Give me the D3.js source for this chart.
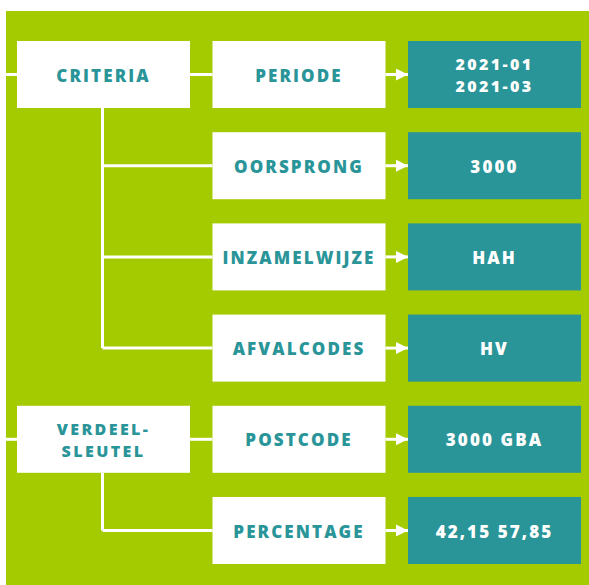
<!DOCTYPE html>
<html>
<head>
<meta charset="utf-8">
<script src="https://cdn.jsdelivr.net/npm/d3@7"></script>
<style>
  html, body { margin: 0; padding: 0; background: #fff; }
  svg { display: block; }
  text { font-family: 'Open Sans', Lato, sans-serif; font-weight: 800; }
</style>
</head>
<body>
<div id="chart"></div>
<script>
const groups = [
  { name: ['CRITERIA'], rows: [0, 3] },
  { name: ['VERDEEL-', 'SLEUTEL'], rows: [4, 5] }
];
const criteria = ['PERIODE', 'OORSPRONG', 'INZAMELWIJZE', 'AFVALCODES', 'POSTCODE', 'PERCENTAGE'];
const values = [['2021-01', '2021-03'], ['3000'], ['HAH'], ['HV'], ['3000 GBA'], ['42,15 57,85']];

const colors = { green: '#a4ca00', teal: '#2a9599', white: '#ffffff' };

const width = 589;
const height = 585;
const svg = d3.select('#chart').append('svg')
  .attr('width', width)
  .attr('height', height);

svg.append('rect')
  .attr('x', 6).attr('y', 11)
  .attr('width', width - 6).attr('height', height - 11)
  .attr('fill', colors.green);

const rows = d3.range(criteria.length);
const fy = d3.scaleBand().domain(rows).range([41, 564]).paddingInner(0.265).paddingOuter(0);
const fx = d3.scaleBand().domain([0, 1, 2]).range([17, 581]).paddingInner(0.115).paddingOuter(0);
const cy = i => fy(i) + fy.bandwidth() / 2;
const trunkX = fx(0) + fx.bandwidth() / 2 - 1;

svg.append('defs').append('marker')
  .attr('id', 'arrow')
  .attr('viewBox', '0 0 10 10')
  .attr('refX', 10).attr('refY', 5)
  .attr('markerWidth', 4).attr('markerHeight', 4)
  .attr('markerUnits', 'strokeWidth')
  .attr('orient', 'auto')
  .append('path')
  .attr('d', 'M0,0L10,5L0,10Z')
  .attr('fill', colors.white);

const lines = svg.append('g')
  .attr('stroke', colors.white)
  .attr('stroke-width', 3)
  .attr('fill', 'none');

// stubs from left edge into group boxes
lines.selectAll('.stub')
  .data(groups)
  .join('line')
  .attr('class', 'stub')
  .attr('x1', 6).attr('x2', fx(0))
  .attr('y1', d => (cy(d.rows[0]))).attr('y2', d => cy(d.rows[0]));

// group box to first criterion
lines.selectAll('.first')
  .data(groups)
  .join('line')
  .attr('class', 'first')
  .attr('x1', fx(0) + fx.bandwidth()).attr('x2', fx(1))
  .attr('y1', d => cy(d.rows[0])).attr('y2', d => cy(d.rows[0]));

// trunk + branches
lines.selectAll('.trunk')
  .data(groups)
  .join('path')
  .attr('class', 'trunk')
  .attr('d', d => {
    let p = `M${trunkX},${fy(d.rows[0]) + fy.bandwidth()}V${cy(d.rows[1])}`;
    d3.range(d.rows[0] + 1, d.rows[1] + 1).forEach(r => {
      p += `M${trunkX},${cy(r)}H${fx(1)}`;
    });
    return p;
  });

// arrows criterion -> value
lines.selectAll('.arrow')
  .data(rows)
  .join('line')
  .attr('class', 'arrow')
  .attr('x1', fx(1) + fx.bandwidth()).attr('x2', fx(2))
  .attr('y1', cy).attr('y2', cy)
  .attr('marker-end', 'url(#arrow)');

// two-line labels get a slightly smaller size so the lines stay apart
const sizeFor = n => (n > 1 ? 16 : 17);

function addText(sel, lines, fill) {
  const t = sel.append('text')
    .attr('text-anchor', 'middle')
    .attr('fill', fill)
    .attr('font-size', d => sizeFor(lines(d).length))
    .attr('letter-spacing', d => (lines(d).length > 1 ? 2.4 : 2.1));
  t.selectAll('tspan')
    .data(d => {
      const l = lines(d);
      const fs = sizeFor(l.length);
      return l.map((s, i) => ({ s, dy: (i - (l.length - 1) / 2) * fs * 1.37 + fs * 0.36 + 1 }));
    })
    .join('tspan')
    .attr('x', 0)
    .attr('y', d => d.dy)
    .text(d => d.s);
}

// group boxes
const g0 = svg.selectAll('.group')
  .data(groups)
  .join('g')
  .attr('class', 'group')
  .attr('transform', d => `translate(${fx(0)},${fy(d.rows[0])})`);
g0.append('rect')
  .attr('width', fx.bandwidth()).attr('height', fy.bandwidth())
  .attr('fill', colors.white);
g0.append('g')
  .attr('transform', `translate(${fx.bandwidth() / 2},${fy.bandwidth() / 2})`)
  .call(addText, d => d.name, colors.teal);

// criteria boxes
const g1 = svg.selectAll('.crit')
  .data(rows)
  .join('g')
  .attr('class', 'crit')
  .attr('transform', i => `translate(${fx(1)},${fy(i)})`);
g1.append('rect')
  .attr('width', fx.bandwidth()).attr('height', fy.bandwidth())
  .attr('fill', colors.white);
g1.append('g')
  .attr('transform', `translate(${fx.bandwidth() / 2},${fy.bandwidth() / 2})`)
  .call(addText, i => [criteria[i]], colors.teal);

// value boxes
const g2 = svg.selectAll('.val')
  .data(rows)
  .join('g')
  .attr('class', 'val')
  .attr('transform', i => `translate(${fx(2)},${fy(i)})`);
g2.append('rect')
  .attr('width', fx.bandwidth()).attr('height', fy.bandwidth())
  .attr('fill', colors.teal);
g2.append('g')
  .attr('transform', `translate(${fx.bandwidth() / 2},${fy.bandwidth() / 2})`)
  .call(addText, i => values[i], colors.white);
</script>
</body>
</html>
